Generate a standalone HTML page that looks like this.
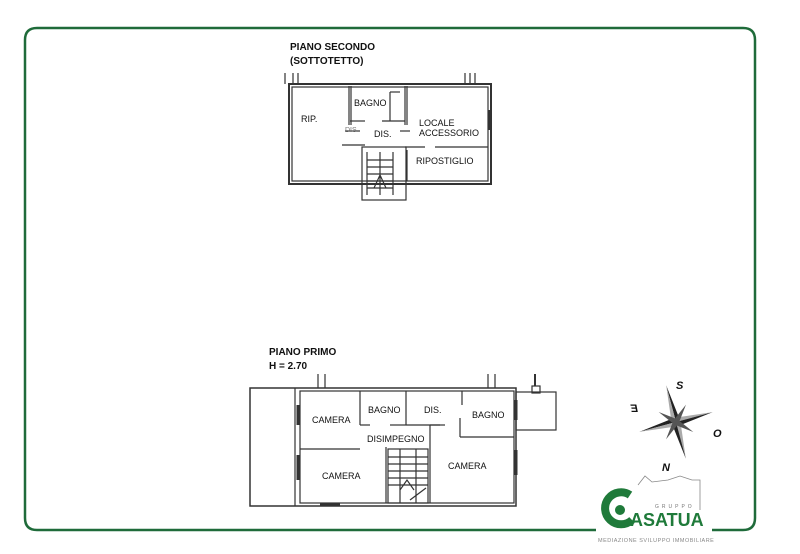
<!DOCTYPE html>
<html><head><meta charset="utf-8"><style>
html,body{margin:0;padding:0;background:#fff;}
svg{display:block}
text{font-family:"Liberation Sans",sans-serif;}
</style></head><body>
<svg width="800" height="554" viewBox="0 0 800 554" xmlns="http://www.w3.org/2000/svg">
<rect width="800" height="554" fill="#fff"/>
<!-- frame -->
<path d="M596,530 H37 Q25,530 25,518 V40 Q25,28 37,28 H743 Q755,28 755,40 V518 Q755,530 743,530 H712" fill="none" stroke="#1f6b3a" stroke-width="2.5"/>

<!-- TOP PLAN -->
<g fill="none" stroke="#333" stroke-width="1.2">
<text x="290" y="50" font-size="10" font-weight="bold" fill="#111" stroke="none">PIANO SECONDO</text>
<text x="290" y="64" font-size="10" font-weight="bold" fill="#111" stroke="none">(SOTTOTETTO)</text>
<line x1="285" y1="73" x2="285" y2="84"/><line x1="293" y1="73" x2="293" y2="84"/><line x1="298" y1="73" x2="298" y2="84"/>
<line x1="465" y1="73" x2="465" y2="84"/><line x1="470" y1="73" x2="470" y2="84"/><line x1="475" y1="73" x2="475" y2="84"/>
<rect x="289" y="84" width="202" height="100" stroke-width="2"/>
<rect x="292" y="87" width="196" height="94"/>
<line x1="349" y1="86" x2="349" y2="125"/><line x1="351" y1="86" x2="351" y2="125"/>
<line x1="350" y1="121" x2="365" y2="121"/><line x1="382" y1="121" x2="405" y2="121"/>
<line x1="390" y1="92" x2="400" y2="92"/><line x1="390" y1="92" x2="390" y2="121"/>
<line x1="405" y1="86" x2="405" y2="125"/><line x1="407" y1="86" x2="407" y2="125"/>
<line x1="345" y1="131" x2="360" y2="131"/><line x1="400" y1="131" x2="410" y2="131"/>
<line x1="342" y1="145" x2="365" y2="145"/><line x1="405" y1="147" x2="425" y2="147"/><line x1="435" y1="147" x2="488" y2="147"/>
<line x1="407" y1="150" x2="407" y2="181"/>
<rect x="362" y="147" width="44" height="53"/>
<path d="M367,152 V195 M380,152 V195 M393,152 V195 M367,160 H393 M367,167 H393 M367,174 H393 M367,181 H393 M367,188 H393 M374,188 L380,175 L386,188"/>
<line x1="490" y1="110" x2="490" y2="130" stroke-width="3"/>
</g>
<g font-size="9" fill="#111">
<text x="301" y="122">RIP.</text>
<text x="354" y="106">BAGNO</text>
<text x="419" y="126">LOCALE</text>
<text x="419" y="136">ACCESSORIO</text>
<text x="374" y="137">DIS.</text>
<text x="345" y="132" font-size="7" fill="#777">DIS</text>
<text x="416" y="164">RIPOSTIGLIO</text>
</g>

<!-- BOTTOM PLAN -->
<g fill="none" stroke="#333" stroke-width="1.2">
<text x="269" y="355" font-size="10" font-weight="bold" fill="#111" stroke="none">PIANO PRIMO</text>
<text x="269" y="369" font-size="10" font-weight="bold" fill="#111" stroke="none">H = 2.70</text>
<line x1="318" y1="374" x2="318" y2="388"/><line x1="325" y1="374" x2="325" y2="388"/>
<line x1="488" y1="374" x2="488" y2="388"/><line x1="495" y1="374" x2="495" y2="388"/>
<rect x="250" y="388" width="266" height="118" stroke-width="1.5"/>
<line x1="295" y1="388" x2="295" y2="506"/>
<rect x="300" y="391" width="214" height="112"/>
<line x1="300" y1="449" x2="360" y2="449"/>
<line x1="360" y1="391" x2="360" y2="425"/><line x1="406" y1="391" x2="406" y2="425"/>
<line x1="360" y1="425" x2="370" y2="425"/><line x1="390" y1="425" x2="406" y2="425"/>
<line x1="406" y1="425" x2="440" y2="425"/><line x1="430" y1="425" x2="445" y2="425"/>
<line x1="462" y1="391" x2="462" y2="405"/>
<line x1="460" y1="418" x2="460" y2="437"/><line x1="460" y1="437" x2="514" y2="437"/>
<line x1="430" y1="425" x2="430" y2="503"/>
<line x1="386" y1="447" x2="386" y2="503"/>
<rect x="388" y="449" width="40" height="54"/>
<path d="M400,449 V503 M416,449 V503 M388,457 H428 M388,464 H428 M388,471 H428 M388,478 H428 M388,485 H428 M400,490 L407,480 L414,490"/>
<line x1="410" y1="500" x2="426" y2="488"/>
<rect x="516" y="392" width="40" height="38"/>
<rect x="532" y="386" width="8" height="7"/>
<line x1="535" y1="374" x2="535" y2="386" stroke-width="2"/>
<line x1="298" y1="405" x2="298" y2="425" stroke-width="3"/>
<line x1="298" y1="455" x2="298" y2="480" stroke-width="3"/>
<line x1="516" y1="400" x2="516" y2="420" stroke-width="3"/>
<line x1="516" y1="450" x2="516" y2="475" stroke-width="3"/>
<line x1="320" y1="504" x2="340" y2="504" stroke-width="3"/>
</g>
<g font-size="9" fill="#111">
<text x="312" y="423">CAMERA</text>
<text x="368" y="413">BAGNO</text>
<text x="424" y="413">DIS.</text>
<text x="472" y="418">BAGNO</text>
<text x="367" y="442">DISIMPEGNO</text>
<text x="322" y="479">CAMERA</text>
<text x="448" y="469">CAMERA</text>
</g>

<!-- compass -->
<g transform="translate(676,422) rotate(-15)">
<polygon points="0,-38 4,-4 0,0" fill="#222"/><polygon points="0,-38 -4,-4 0,0" fill="#aaa"/>
<polygon points="0,38 4,4 0,0" fill="#aaa"/><polygon points="0,38 -4,4 0,0" fill="#222"/>
<polygon points="-38,0 -4,-4 0,0" fill="#222"/><polygon points="-38,0 -4,4 0,0" fill="#aaa"/>
<polygon points="38,0 4,-4 0,0" fill="#aaa"/><polygon points="38,0 4,4 0,0" fill="#222"/>
<g transform="rotate(45)">
<polygon points="0,-20 3,0 -3,0" fill="#555"/><polygon points="0,20 3,0 -3,0" fill="#555"/>
<polygon points="-20,0 0,3 0,-3" fill="#555"/><polygon points="20,0 0,3 0,-3" fill="#555"/>
</g>
</g>
<g font-size="11" font-weight="bold" font-style="italic" fill="#111">
<text x="676" y="389">S</text>
<text x="713" y="437">O</text>
<text x="662" y="471">N</text>
<text transform="translate(638,412) scale(-1,1)" x="0" y="0">E</text>
</g>

<!-- logo -->
<path d="M638,485 L645,476 L652,482 L668,480 L680,476 L692,480 L700,480 L700,510" fill="none" stroke="#888" stroke-width="0.8"/>
<path d="M630,495 A16,16 0 1 0 632,520" fill="none" stroke="#1f7a3a" stroke-width="8"/>
<circle cx="620" cy="510" r="5" fill="#1f7a3a"/>
<text x="655" y="508" font-size="5" fill="#777" letter-spacing="3">GRUPPO</text>
<text x="630" y="526" font-size="18" font-weight="bold" fill="#1f7a3a">ASATUA</text>
<text x="598" y="542" font-size="5.5" fill="#888" letter-spacing="0.5">MEDIAZIONE SVILUPPO IMMOBILIARE</text>
</svg>
</body></html>
